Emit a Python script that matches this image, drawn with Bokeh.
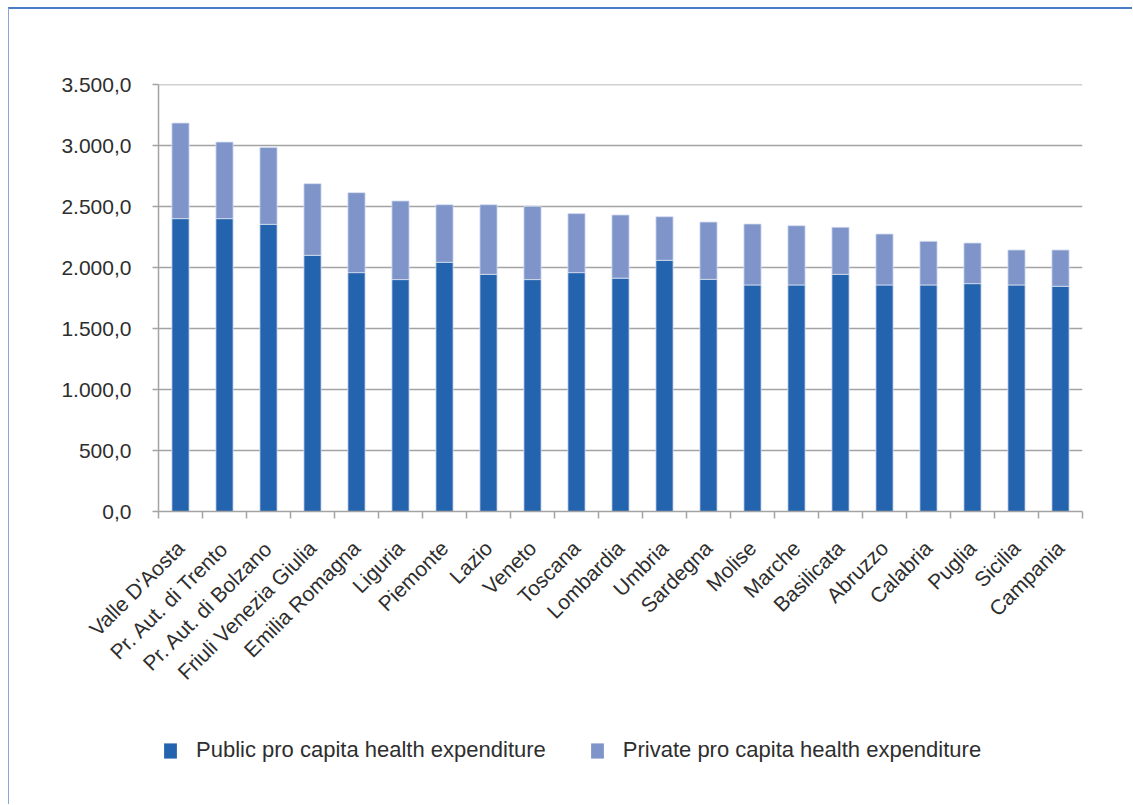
from bokeh.plotting import figure
from bokeh.layouts import column
from bokeh.models import FixedTicker, Legend, LegendItem, Range1d
from bokeh.embed import file_html
from bokeh.resources import INLINE

regions = ["Valle D'Aosta", "Pr. Aut. di Trento", "Pr. Aut. di Bolzano", "Friuli Venezia Giulia",
           "Emilia Romagna", "Liguria", "Piemonte", "Lazio", "Veneto", "Toscana", "Lombardia",
           "Umbria", "Sardegna", "Molise", "Marche", "Basilicata", "Abruzzo", "Calabria",
           "Puglia", "Sicilia", "Campania"]
public = [2402, 2402, 2355, 2101, 1959, 1902, 2044, 1945, 1902, 1959, 1914,
          2060, 1904, 1858, 1858, 1945, 1858, 1858, 1869, 1858, 1847]
total = [3186, 3030, 2986, 2689, 2615, 2547, 2516, 2516, 2503, 2443, 2432,
         2418, 2374, 2358, 2344, 2331, 2276, 2216, 2202, 2145, 2145]
private = [t - p for t, p in zip(total, public)]
y_ticks = [0, 500, 1000, 1500, 2000, 2500, 3000, 3500]
series_names = ["Public pro capita health expenditure", "Private pro capita health expenditure"]
colors = ["#2463ae", "#7f95ca"]

n = len(regions)
xs = [i + 0.5 for i in range(n)]

FONT = "Liberation Sans"
TXT = "#2e2e2e"
GRID = "#a3a3a3"
W = 1123

p = figure(width=W, height=720, output_backend="svg", toolbar_location=None,
           x_range=Range1d(0, n), y_range=Range1d(0, 3502),
           min_border_left=149, min_border_top=75, min_border_right=W - 149 - 924,
           min_border_bottom=720 - 75 - 427)
p.outline_line_color = None
p.background_fill_color = "white"
p.border_fill_color = "white"

src = dict(x=xs, public=public, private=private)
rs = p.vbar_stack(["public", "private"], x="x", width=0.39, source=src,
                  color=colors, line_color="#d5def0", line_width=0.8)

# y axis
p.yaxis.ticker = FixedTicker(ticks=y_ticks)
def fmt(v):
    s = f"{v:,.1f}"
    return s.replace(",", "X").replace(".", ",").replace("X", ".")
p.yaxis.major_label_overrides = {v: fmt(v) for v in y_ticks}
p.yaxis.major_label_text_font = FONT
p.yaxis.major_label_text_font_size = "21px"
p.yaxis.major_label_text_color = TXT
p.yaxis.axis_line_color = GRID
p.yaxis.axis_line_width = 1.5
p.yaxis.major_tick_line_color = GRID
p.yaxis.major_tick_line_width = 1.5
p.yaxis.major_tick_out = 6
p.yaxis.major_tick_in = 0
p.yaxis.minor_tick_line_color = None
p.yaxis.major_label_standoff = 21

# x axis
p.xaxis.ticker = FixedTicker(ticks=xs, minor_ticks=list(range(n + 1)))
p.xaxis.major_label_overrides = {x: r for x, r in zip(xs, regions)}
p.xaxis.major_label_orientation = 0.785398
p.xaxis.major_label_text_font = FONT
p.xaxis.major_label_text_font_size = "21px"
p.xaxis.major_label_text_color = TXT
p.xaxis.major_tick_line_color = None
p.xaxis.minor_tick_line_color = GRID
p.xaxis.minor_tick_line_width = 1.5
p.xaxis.minor_tick_out = 7
p.xaxis.minor_tick_in = 0
p.xaxis.axis_line_color = GRID
p.xaxis.axis_line_width = 1.5
p.xaxis.major_label_standoff = 26

p.xgrid.grid_line_color = None
p.ygrid.ticker = FixedTicker(ticks=y_ticks)
p.ygrid.grid_line_color = GRID
p.ygrid.grid_line_width = 1.5

# legend strip (its frame is aligned with the main plot's frame by the column)
LH = 75
q = figure(width=W, height=LH, output_backend="svg", toolbar_location=None,
           x_range=Range1d(0, 1), y_range=Range1d(0, 1),
           min_border_left=0, min_border_right=0, min_border_top=0, min_border_bottom=0)
q.axis.visible = False
q.grid.grid_line_color = None
q.outline_line_color = None
swatches = [q.vbar(x=[0.5], top=[0], bottom=[0], width=0.01, fill_color=c, line_color=None)
            for c in colors]
legend = Legend(items=[LegendItem(label=series_names[0], renderers=[swatches[0]]),
                       LegendItem(label=series_names[1], renderers=[swatches[1]])],
                orientation="horizontal", location=(4, 41),
                glyph_width=16, glyph_height=19, label_standoff=18, spacing=43,
                label_height=15, padding=0, margin=0, border_line_color=None,
                background_fill_alpha=0,
                label_text_font=FONT, label_text_font_size="22px", label_text_color=TXT)
q.add_layout(legend, "center")

root = column(p, q, spacing=0)
root.styles = {"margin-left": "8px", "margin-top": "7px",
               "border-top": "2px solid #4a7cc6", "border-left": "1px solid #86a6da"}

open("out.html", "w").write(file_html(root, INLINE))
